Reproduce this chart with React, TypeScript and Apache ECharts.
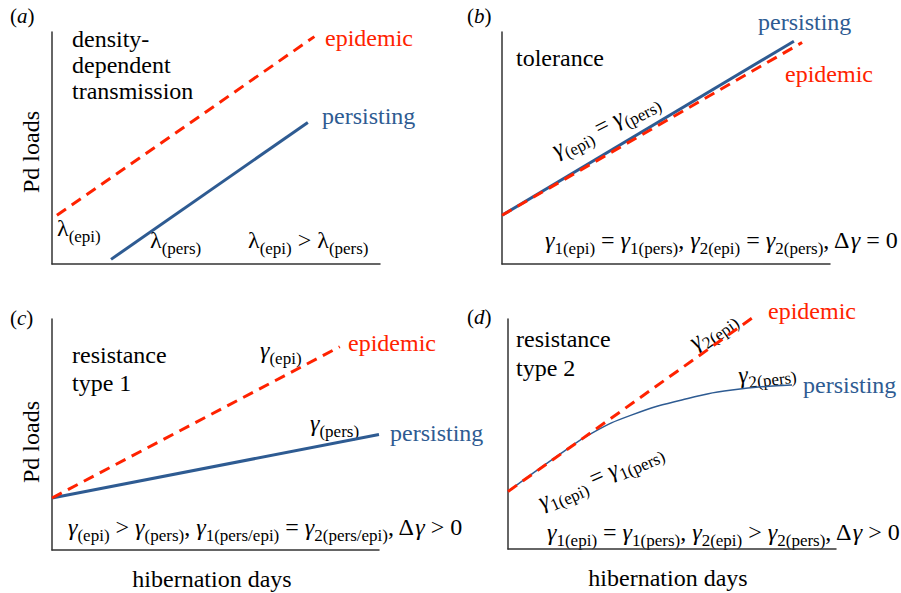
import React, { useEffect, useRef } from 'react';
import * as echarts from 'echarts';

// ---- data (conceptual axis units, 0..100) ----
const epiA = [[1.5, 21], [80, 98]];
const persA = [[18, 2], [78, 61]];
const persB = [[0, 21], [89, 96]];
const epiB = [[0, 21], [91.5, 95.5]];
const epiC = [[0, 22.5], [88, 88]];
const persC = [[0, 22.5], [100, 50]];
const epiD = [[0, 25], [76, 102]];
const persD = [[0, 25], [15.6, 41], [25.6, 50.4], [37.8, 58.3], [53, 64.8], [68.3, 69.1], [86.6, 71.3]];

const panelLetters = ['a', 'b', 'c', 'd'];
const yTitle = 'Pd loads';
const xTitle = 'hibernation days';
const lblEpi = 'epidemic';
const lblPers = 'persisting';

const FAM = 'Times New Roman, Liberation Serif, serif';
const RED = '#ff2200';
const BLUE = '#2e5b92';
const AXIS = '#333333';

function mkRich() {
  return {
    m: { fontSize: 24, fontFamily: FAM, font: `24px ${FAM}`, fill: '#000' },
    g: { fontSize: 24, fontFamily: FAM, fontStyle: 'italic', font: `italic 24px ${FAM}`, fill: '#000' },
    s: { fontSize: 17, fontFamily: FAM, font: `17px ${FAM}`, fill: '#000', padding: [17, 0, 0, 0] },
    p: { fontSize: 21, fontFamily: FAM, font: `21px ${FAM}`, fill: '#000' },
    i: { fontSize: 21, fontFamily: FAM, fontStyle: 'italic', font: `italic 21px ${FAM}`, fill: '#000' },
  };
}

function txt(x: number, y: number, text: string, o: any = {}) {
  const style: any = {
    text,
    fontSize: 24,
    fontFamily: FAM,
    fill: o.color ?? '#000',
    verticalAlign: o.va ?? 'middle',
  };
  if (o.align) style.align = o.align;
  if (o.lh) style.lineHeight = o.lh;
  if (text.indexOf('{') >= 0) style.rich = mkRich();
  const el: any = { type: 'text', x, y, style };
  if (o.rot) el.rotation = (o.rot * Math.PI) / 180;
  return el;
}

const grids = [
  { left: 52, top: 32, width: 328, height: 232 },
  { left: 502, top: 32, width: 328, height: 232 },
  { left: 52, top: 319, width: 327, height: 231 },
  { left: 508, top: 319, width: 328, height: 230 },
];

function axis(i: number) {
  return {
    gridIndex: i,
    type: 'value',
    min: 0,
    max: 100,
    axisLine: { show: true, onZero: false, lineStyle: { color: AXIS, width: 1.5 } },
    axisTick: { show: false },
    axisLabel: { show: false },
    splitLine: { show: false },
  };
}

function line(i: number, data: number[][], color: string, dashed: boolean, width = 3, smooth: any = false) {
  return {
    type: 'line',
    xAxisIndex: i,
    yAxisIndex: i,
    data,
    smooth,
    showSymbol: false,
    clip: false,
    silent: true,
    lineStyle: { color, width, type: dashed ? [11, 7] : 'solid', cap: 'butt' },
  };
}

const letter = (l: string) => `{p|(}{i|${l}}{p|)}`;

const texts = [
  // (a)
  txt(10, 16, letter(panelLetters[0])),
  txt(72, 26, 'density-\ndependent\ntransmission', { va: 'top', lh: 26 }),
  txt(325, 38, lblEpi, { color: RED }),
  txt(322, 116, lblPers, { color: BLUE }),
  txt(57, 228, '{m|λ}{s|(epi)}'),
  txt(150, 240, '{m|λ}{s|(pers)}'),
  txt(248, 240, '{m|λ}{s|(epi)}{m| > λ}{s|(pers)}'),
  txt(31, 152, yTitle, { rot: 90, align: 'center' }),
  // (b)
  txt(467, 16, letter(panelLetters[1])),
  txt(516, 58, 'tolerance'),
  txt(758, 22, lblPers, { color: BLUE }),
  txt(785, 74, lblEpi, { color: RED }),
  txt(605, 124, '{g|γ}{s|(epi)}{m| = }{g|γ}{s|(pers)}', { rot: 27, align: 'center' }),
  txt(545, 240, '{g|γ}{s|1(epi)}{m| = }{g|γ}{s|1(pers)}{m|, }{g|γ}{s|2(epi)}{m| = }{g|γ}{s|2(pers)}{m|, Δ}{g|γ}{m| = 0}'),
  // (c)
  txt(10, 318, letter(panelLetters[2])),
  txt(72, 341, 'resistance\ntype 1', { va: 'top', lh: 28 }),
  txt(260, 350, '{g|γ}{s|(epi)}'),
  txt(348, 343, lblEpi, { color: RED }),
  txt(310, 423, '{g|γ}{s|(pers)}'),
  txt(390, 433, lblPers, { color: BLUE }),
  txt(31, 442, yTitle, { rot: 90, align: 'center' }),
  txt(68, 527, '{g|γ}{s|(epi)}{m| > }{g|γ}{s|(pers)}{m|, }{g|γ}{s|1(pers/epi)}{m| = }{g|γ}{s|2(pers/epi)}{m|, Δ}{g|γ}{m| > 0}'),
  txt(212, 579, xTitle, { align: 'center' }),
  // (d)
  txt(467, 317, letter(panelLetters[3])),
  txt(516, 324, 'resistance\ntype 2', { va: 'top', lh: 29 }),
  txt(768, 311, lblEpi, { color: RED }),
  txt(712, 329, '{g|γ}{s|2(epi)}', { rot: 35, align: 'center' }),
  txt(767, 372, '{g|γ}{s|2(pers)}', { rot: 6.5, align: 'center' }),
  txt(803, 385, lblPers, { color: BLUE }),
  txt(600, 475, '{g|γ}{s|1(epi)}{m| = }{g|γ}{s|1(pers)}', { rot: 24, align: 'center' }),
  txt(547, 532, '{g|γ}{s|1(epi)}{m| = }{g|γ}{s|1(pers)}{m|, }{g|γ}{s|2(epi)}{m| > }{g|γ}{s|2(pers)}{m|, Δ}{g|γ}{m| > 0}'),
  txt(668, 578, xTitle, { align: 'center' }),
];

export default function App() {
  const ref = useRef<HTMLDivElement>(null);
  useEffect(() => {
    document.body.style.margin = '0';
    const chart = echarts.init(ref.current!, undefined, { renderer: 'svg' });
    const option = {
      animation: false,
      backgroundColor: '#fff',
      grid: grids,
      xAxis: grids.map((_, i) => axis(i)),
      yAxis: grids.map((_, i) => axis(i)),
      series: [
        line(0, persA, BLUE, false),
        line(0, epiA, RED, true),
        line(1, persB, BLUE, false),
        line(1, epiB, RED, true),
        line(2, persC, BLUE, false),
        line(2, epiC, RED, true),
        line(3, persD, BLUE, false, 1.5, 0.5),
        line(3, epiD, RED, true),
      ],
      graphic: texts,
    };
    chart.setOption(option);
    let alive = true;
    const fonts: any = (document as any).fonts;
    if (fonts && fonts.ready) {
      fonts.ready.then(() => {
        if (alive) chart.setOption(option, true);
      });
    }
    return () => {
      alive = false;
      chart.dispose();
    };
  }, []);
  return <div ref={ref} style={{ width: 901, height: 593 }} />;
}
